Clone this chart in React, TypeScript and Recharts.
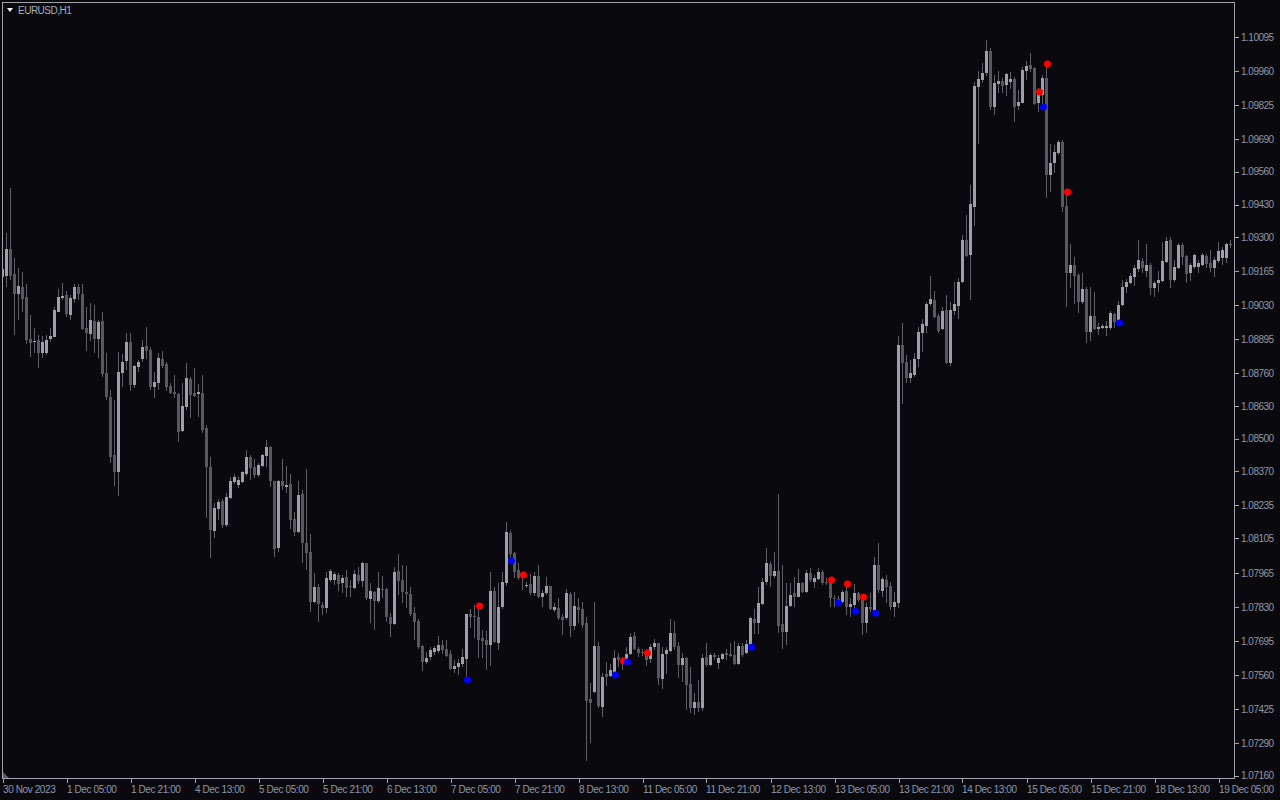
import React from 'react';
import { ComposedChart, Bar, Scatter, XAxis, YAxis } from 'recharts';

// EURUSD H1 candles, bar 0 = 30 Nov 2023 (prices)
const OPEN = [
  1.09144, 1.09148, 1.09252, 1.09156, 1.09076, 1.09104, 1.09064, 1.08896, 1.08884, 1.08892,
  1.08840, 1.08840, 1.08896, 1.08904, 1.09004, 1.09060, 1.09072, 1.08992, 1.09056, 1.09104,
  1.09076, 1.08940, 1.08916, 1.08968, 1.08896, 1.08968,
  1.08762, 1.08666, 1.08434, 1.08366,
  1.08762, 1.08810, 1.08886, 1.08714, 1.08786, 1.08818, 1.08870, 1.08854, 1.08706, 1.08722,
  1.08818, 1.08798, 1.08710, 1.08686, 1.08678, 1.08530, 1.08626, 1.08738, 1.08682, 1.08678, 1.08682,
  1.08544, 1.08388, 1.08132, 1.08220, 1.08252, 1.08156, 1.08264, 1.08328, 1.08316, 1.08328,
  1.08360, 1.08428, 1.08388, 1.08356, 1.08392, 1.08432,
  1.08469, 1.08333, 1.08065, 1.08333, 1.08309, 1.08321, 1.08181, 1.08129, 1.08281, 1.08085,
  1.08051, 1.07851, 1.07911, 1.07839, 1.07827, 1.07939, 1.07939, 1.07959, 1.07927, 1.07951,
  1.07915, 1.07907, 1.07959, 1.07935, 1.08007, 1.07863, 1.07891, 1.07855, 1.07903, 1.07903,
  1.07791, 1.07763, 1.07975, 1.07939, 1.07891, 1.07883, 1.07807, 1.07775,
  1.07677, 1.07613, 1.07633, 1.07653, 1.07657, 1.07681, 1.07665, 1.07645, 1.07585, 1.07593,
  1.07605, 1.07625, 1.07805, 1.07797, 1.07793, 1.07709, 1.07701,
  1.07679, 1.07895, 1.07687, 1.07831, 1.07927, 1.08127, 1.08047, 1.07979, 1.07951, 1.07919,
  1.07923, 1.07887, 1.07955, 1.07871, 1.07887, 1.07915, 1.07819, 1.07827, 1.07791, 1.07787,
  1.07883, 1.07755, 1.07831, 1.07823,
  1.07769, 1.07465, 1.07493, 1.07677, 1.07433, 1.07565, 1.07557, 1.07569, 1.07633, 1.07625,
  1.07621, 1.07645, 1.07717, 1.07665, 1.07653, 1.07653, 1.07625, 1.07673, 1.07689, 1.07545,
  1.07645, 1.07657, 1.07729, 1.07677, 1.07601, 1.07629, 1.07525, 1.07429, 1.07453, 1.07429,
  1.07633, 1.07601, 1.07641, 1.07609, 1.07625, 1.07649, 1.07645, 1.07641, 1.07605, 1.07677, 1.07649,
  1.07679, 1.07783, 1.07767, 1.07843, 1.07931, 1.08003, 1.07955, 1.07975, 1.07763, 1.07731,
  1.07835, 1.07887, 1.07871, 1.07927, 1.07891, 1.07967, 1.07931, 1.07943, 1.07971, 1.07931,
  1.07939, 1.07867, 1.07863, 1.07851, 1.07895, 1.07831, 1.07839, 1.07887, 1.07871, 1.07767,
  1.07831, 1.07811, 1.07999, 1.07895, 1.07939, 1.07915, 1.07831, 1.07847,
  1.08872, 1.08804, 1.08740, 1.08752, 1.08816, 1.08920, 1.08948, 1.09036, 1.09052, 1.08988,
  1.08936, 1.09012, 1.08800, 1.09008, 1.09028, 1.09122, 1.09290, 1.09230,
  1.09419, 1.09897, 1.09925, 1.09953, 1.10041, 1.09817, 1.09909, 1.09921, 1.09905, 1.09917,
  1.09929, 1.09821, 1.09833, 1.09961, 1.09985, 1.09973, 1.09833, 1.09865,
  1.09935, 1.09548, 1.09596, 1.09636, 1.09680, 1.09425, 1.09157, 1.09189,
  1.09151, 1.09043, 1.09095, 1.08923, 1.08987, 1.08935, 1.08939, 1.08939, 1.08939, 1.08995,
  1.08963, 1.09031, 1.09103, 1.09119,
  1.09142, 1.09174, 1.09206, 1.09166, 1.09190, 1.09098, 1.09118, 1.09126, 1.09202, 1.09290,
  1.09130, 1.09178, 1.09270, 1.09226, 1.09158, 1.09182, 1.09182, 1.09190, 1.09226, 1.09198,
  1.09178, 1.09206, 1.09218, 1.09218, 1.09274,
];

const HIGH = [
  1.09188, 1.09316, 1.09496, 1.09220, 1.09180, 1.09164, 1.09116, 1.08992, 1.08940, 1.08912,
  1.08908, 1.08912, 1.08940, 1.09024, 1.09096, 1.09120, 1.09088, 1.09072, 1.09116, 1.09116,
  1.09116, 1.09024, 1.09040, 1.09032, 1.08972, 1.09004,
  1.08842, 1.08694, 1.08654, 1.08846,
  1.08838, 1.08922, 1.08922, 1.08794, 1.08814, 1.08894, 1.08942, 1.08866, 1.08766, 1.08842,
  1.08850, 1.08806, 1.08722, 1.08754, 1.08682, 1.08722, 1.08802, 1.08746, 1.08782, 1.08718, 1.08754,
  1.08556, 1.08428, 1.08244, 1.08260, 1.08260, 1.08284, 1.08348, 1.08360, 1.08348, 1.08372,
  1.08456, 1.08436, 1.08420, 1.08404, 1.08440, 1.08496,
  1.08473, 1.08333, 1.08337, 1.08421, 1.08393, 1.08361, 1.08209, 1.08333, 1.08297, 1.08381,
  1.08123, 1.07967, 1.07923, 1.07851, 1.07971, 1.07983, 1.07971, 1.07967, 1.07959, 1.07979,
  1.07939, 1.07979, 1.07991, 1.08011, 1.08007, 1.07927, 1.07895, 1.07971, 1.07955, 1.07907,
  1.07807, 1.07991, 1.08043, 1.07999, 1.07995, 1.07911, 1.07831, 1.07783,
  1.07681, 1.07653, 1.07673, 1.07677, 1.07717, 1.07701, 1.07701, 1.07661, 1.07621, 1.07625,
  1.07665, 1.07805, 1.07825, 1.07841, 1.07825, 1.07741, 1.07737,
  1.07971, 1.07911, 1.07927, 1.07971, 1.08171, 1.08135, 1.08051, 1.08007, 1.07963, 1.07931,
  1.07963, 1.07971, 1.07999, 1.07899, 1.07951, 1.07915, 1.07847, 1.07867, 1.07803, 1.07903,
  1.07891, 1.07891, 1.07867, 1.07851,
  1.07793, 1.07529, 1.07853, 1.07693, 1.07569, 1.07613, 1.07605, 1.07661, 1.07649, 1.07633,
  1.07673, 1.07729, 1.07733, 1.07673, 1.07665, 1.07665, 1.07685, 1.07705, 1.07689, 1.07673,
  1.07673, 1.07785, 1.07777, 1.07693, 1.07649, 1.07633, 1.07593, 1.07489, 1.07541, 1.07645,
  1.07689, 1.07649, 1.07649, 1.07641, 1.07649, 1.07665, 1.07689, 1.07697, 1.07689, 1.07689, 1.07701,
  1.07791, 1.07823, 1.07911, 1.07947, 1.08067, 1.08011, 1.08051, 1.08279, 1.07999, 1.07927,
  1.07927, 1.07951, 1.07983, 1.07931, 1.07979, 1.07987, 1.07959, 1.07987, 1.07979, 1.07947,
  1.07947, 1.07879, 1.07875, 1.07899, 1.07911, 1.07867, 1.07923, 1.07891, 1.07879, 1.07847,
  1.07887, 1.08031, 1.08087, 1.07951, 1.07959, 1.07931, 1.07891, 1.08908,
  1.08960, 1.08832, 1.08812, 1.08840, 1.08944, 1.08976, 1.09044, 1.09148, 1.09088, 1.08996,
  1.09024, 1.09072, 1.09044, 1.09124, 1.09140, 1.09310, 1.09390, 1.09510,
  1.09919, 1.09961, 1.09993, 1.10085, 1.10053, 1.09945, 1.09961, 1.09933, 1.09953, 1.09957,
  1.09937, 1.09885, 1.09977, 1.10001, 1.10033, 1.09977, 1.09893, 1.09945,
  1.09979, 1.09672, 1.09668, 1.09688, 1.09688, 1.09469, 1.09273, 1.09221,
  1.09159, 1.09159, 1.09103, 1.09103, 1.09083, 1.08959, 1.08955, 1.08967, 1.09007, 1.08999,
  1.09047, 1.09131, 1.09135, 1.09159,
  1.09190, 1.09290, 1.09218, 1.09274, 1.09198, 1.09126, 1.09166, 1.09282, 1.09302, 1.09302,
  1.09210, 1.09278, 1.09278, 1.09230, 1.09198, 1.09234, 1.09210, 1.09238, 1.09234, 1.09250,
  1.09222, 1.09282, 1.09262, 1.09278, 1.09290,
];

const LOW = [
  1.09084, 1.09104, 1.09132, 1.08912, 1.08972, 1.09004, 1.08876, 1.08824, 1.08840, 1.08780,
  1.08820, 1.08832, 1.08884, 1.08904, 1.09004, 1.09052, 1.08984, 1.08972, 1.09040, 1.09052,
  1.08932, 1.08848, 1.08888, 1.08840, 1.08820, 1.08744,
  1.08654, 1.08402, 1.08314, 1.08274,
  1.08706, 1.08774, 1.08690, 1.08702, 1.08766, 1.08806, 1.08818, 1.08694, 1.08662, 1.08694,
  1.08782, 1.08690, 1.08678, 1.08662, 1.08486, 1.08526, 1.08614, 1.08582, 1.08666, 1.08586, 1.08522,
  1.08184, 1.08028, 1.08104, 1.08176, 1.08144, 1.08148, 1.08260, 1.08320, 1.08304, 1.08324,
  1.08352, 1.08336, 1.08344, 1.08348, 1.08388, 1.08388,
  1.08309, 1.08029, 1.08049, 1.08297, 1.08285, 1.08141, 1.08113, 1.08125, 1.08005, 1.07977,
  1.07811, 1.07847, 1.07771, 1.07799, 1.07807, 1.07931, 1.07919, 1.07895, 1.07887, 1.07871,
  1.07871, 1.07903, 1.07923, 1.07911, 1.07859, 1.07767, 1.07739, 1.07847, 1.07867, 1.07771,
  1.07711, 1.07759, 1.07879, 1.07847, 1.07827, 1.07795, 1.07699, 1.07663,
  1.07577, 1.07605, 1.07621, 1.07641, 1.07649, 1.07645, 1.07633, 1.07581, 1.07569, 1.07561,
  1.07593, 1.07553, 1.07749, 1.07709, 1.07629, 1.07629, 1.07581,
  1.07599, 1.07687, 1.07659, 1.07823, 1.07915, 1.08019, 1.07947, 1.07939, 1.07899, 1.07907,
  1.07879, 1.07875, 1.07867, 1.07831, 1.07879, 1.07819, 1.07811, 1.07779, 1.07719, 1.07779,
  1.07711, 1.07739, 1.07767, 1.07747,
  1.07221, 1.07293, 1.07489, 1.07429, 1.07393, 1.07517, 1.07553, 1.07561, 1.07593, 1.07581,
  1.07609, 1.07641, 1.07661, 1.07633, 1.07637, 1.07597, 1.07609, 1.07661, 1.07521, 1.07505,
  1.07565, 1.07653, 1.07661, 1.07549, 1.07533, 1.07421, 1.07409, 1.07401, 1.07413, 1.07417,
  1.07593, 1.07597, 1.07621, 1.07585, 1.07621, 1.07621, 1.07633, 1.07601, 1.07601, 1.07633, 1.07645,
  1.07671, 1.07723, 1.07723, 1.07839, 1.07919, 1.07911, 1.07947, 1.07727, 1.07663, 1.07679,
  1.07831, 1.07831, 1.07871, 1.07887, 1.07887, 1.07931, 1.07907, 1.07939, 1.07919, 1.07919,
  1.07831, 1.07831, 1.07835, 1.07847, 1.07799, 1.07791, 1.07819, 1.07851, 1.07719, 1.07727,
  1.07811, 1.07799, 1.07887, 1.07871, 1.07847, 1.07819, 1.07791, 1.07827,
  1.08640, 1.08720, 1.08720, 1.08744, 1.08784, 1.08844, 1.08920, 1.09028, 1.08980, 1.08920,
  1.08932, 1.08796, 1.08788, 1.08992, 1.08976, 1.09118, 1.09222, 1.09050,
  1.09347, 1.09673, 1.09913, 1.09941, 1.09805, 1.09785, 1.09873, 1.09873, 1.09861, 1.09889,
  1.09757, 1.09805, 1.09833, 1.09925, 1.09957, 1.09825, 1.09797, 1.09817,
  1.09455, 1.09480, 1.09556, 1.09628, 1.09400, 1.09025, 1.09097, 1.09037,
  1.08999, 1.09035, 1.08879, 1.08887, 1.08931, 1.08911, 1.08935, 1.08907, 1.08931, 1.08939,
  1.08951, 1.09027, 1.09079, 1.09115,
  1.09106, 1.09162, 1.09158, 1.09142, 1.09070, 1.09062, 1.09082, 1.09122, 1.09198, 1.09098,
  1.09122, 1.09174, 1.09190, 1.09118, 1.09126, 1.09174, 1.09158, 1.09186, 1.09178, 1.09162,
  1.09142, 1.09198, 1.09190, 1.09198, 1.09258,
];

const CLOSE = [
  1.09176, 1.09252, 1.09148, 1.09076, 1.09108, 1.09056, 1.08892, 1.08880, 1.08888, 1.08840,
  1.08884, 1.08892, 1.08908, 1.09012, 1.09064, 1.09068, 1.08996, 1.09060, 1.09104, 1.09076,
  1.08936, 1.08920, 1.08972, 1.08896, 1.08964, 1.08756,
  1.08666, 1.08426, 1.08366, 1.08766,
  1.08806, 1.08886, 1.08714, 1.08790, 1.08806, 1.08866, 1.08850, 1.08706, 1.08726, 1.08822,
  1.08790, 1.08706, 1.08682, 1.08678, 1.08526, 1.08630, 1.08742, 1.08674, 1.08670, 1.08686, 1.08534,
  1.08388, 1.08136, 1.08224, 1.08248, 1.08156, 1.08268, 1.08332, 1.08348, 1.08336, 1.08368,
  1.08428, 1.08384, 1.08356, 1.08396, 1.08436, 1.08468,
  1.08333, 1.08061, 1.08333, 1.08313, 1.08317, 1.08177, 1.08129, 1.08277, 1.08085, 1.08045,
  1.07851, 1.07911, 1.07843, 1.07827, 1.07947, 1.07975, 1.07963, 1.07923, 1.07947, 1.07907,
  1.07911, 1.07963, 1.07935, 1.08007, 1.07867, 1.07895, 1.07855, 1.07907, 1.07899, 1.07791,
  1.07763, 1.07971, 1.07935, 1.07891, 1.07883, 1.07803, 1.07771, 1.07671,
  1.07613, 1.07629, 1.07661, 1.07669, 1.07681, 1.07661, 1.07637, 1.07585, 1.07597, 1.07609,
  1.07633, 1.07805, 1.07793, 1.07793, 1.07701, 1.07697, 1.07681,
  1.07895, 1.07691, 1.07831, 1.07931, 1.08131, 1.08043, 1.07971, 1.07947, 1.07947, 1.07919,
  1.07887, 1.07955, 1.07871, 1.07887, 1.07915, 1.07823, 1.07831, 1.07787, 1.07779, 1.07887,
  1.07755, 1.07835, 1.07819, 1.07759,
  1.07457, 1.07449, 1.07677, 1.07437, 1.07553, 1.07553, 1.07581, 1.07629, 1.07621, 1.07605,
  1.07645, 1.07713, 1.07665, 1.07649, 1.07649, 1.07621, 1.07673, 1.07689, 1.07549, 1.07645,
  1.07661, 1.07729, 1.07673, 1.07601, 1.07629, 1.07521, 1.07429, 1.07453, 1.07429, 1.07629,
  1.07601, 1.07641, 1.07633, 1.07629, 1.07645, 1.07641, 1.07637, 1.07605, 1.07677, 1.07641, 1.07685,
  1.07787, 1.07767, 1.07847, 1.07931, 1.08007, 1.07955, 1.07975, 1.07755, 1.07731, 1.07835,
  1.07879, 1.07871, 1.07927, 1.07891, 1.07967, 1.07939, 1.07947, 1.07971, 1.07927, 1.07927,
  1.07867, 1.07863, 1.07847, 1.07891, 1.07831, 1.07843, 1.07887, 1.07859, 1.07767, 1.07831,
  1.07823, 1.07999, 1.07899, 1.07943, 1.07911, 1.07831, 1.07851, 1.08872,
  1.08800, 1.08740, 1.08760, 1.08816, 1.08924, 1.08956, 1.09036, 1.09056, 1.08984, 1.08928,
  1.09008, 1.08800, 1.09012, 1.09036, 1.09124, 1.09290, 1.09226, 1.09434,
  1.09903, 1.09929, 1.09953, 1.10041, 1.09817, 1.09913, 1.09921, 1.09901, 1.09949, 1.09929,
  1.09817, 1.09837, 1.09965, 1.09981, 1.09969, 1.09829, 1.09873, 1.09933,
  1.09547, 1.09596, 1.09640, 1.09680, 1.09420, 1.09157, 1.09189, 1.09145,
  1.09043, 1.09095, 1.08923, 1.08987, 1.08935, 1.08943, 1.08947, 1.08947, 1.08999, 1.08963,
  1.09031, 1.09103, 1.09123, 1.09147,
  1.09178, 1.09210, 1.09178, 1.09190, 1.09098, 1.09118, 1.09130, 1.09206, 1.09286, 1.09130,
  1.09182, 1.09270, 1.09222, 1.09154, 1.09190, 1.09230, 1.09198, 1.09230, 1.09194, 1.09178,
  1.09210, 1.09246, 1.09250, 1.09274, 1.09270,
];

// indicator signals: bar index and price of the dot
const RED_SIGNAL_BARS = [119, 130, 155, 161, 207, 211, 215, 259, 261, 266];
const RED_SIGNAL_PRICES = [1.07835, 1.07959, 1.07617, 1.07649, 1.07939, 1.07923, 1.07871, 1.09878, 1.09989, 1.0948];
const BLUE_SIGNAL_BARS = [116, 127, 153, 156, 187, 209, 213, 218, 260, 279];
const BLUE_SIGNAL_PRICES = [1.07541, 1.08014, 1.07561, 1.07613, 1.07672, 1.07847, 1.07815, 1.07807, 1.09818, 1.0896];

const TIME_LABELS = [
  '30 Nov 2023', '1 Dec 05:00', '1 Dec 21:00', '4 Dec 13:00', '5 Dec 05:00', '5 Dec 21:00',
  '6 Dec 13:00', '7 Dec 05:00', '7 Dec 21:00', '8 Dec 13:00', '11 Dec 05:00', '11 Dec 21:00',
  '12 Dec 13:00', '13 Dec 05:00', '13 Dec 21:00', '14 Dec 13:00', '15 Dec 05:00', '15 Dec 21:00',
  '18 Dec 13:00', '19 Dec 05:00',
];
const BARS_PER_LABEL = 16;

const PRICE_TICKS = [
  1.0716, 1.0729, 1.07425, 1.0756, 1.07695, 1.0783, 1.07965, 1.08105, 1.08235, 1.0837, 1.085,
  1.0863, 1.0876, 1.08895, 1.0903, 1.09165, 1.093, 1.0943, 1.0956, 1.0969, 1.09825, 1.0996, 1.10095,
];

const SYMBOL_TITLE = 'EURUSD,H1';

// ---- styling ----
const BG = '#0a0a0e';
const FRAME = '#a3a3ab';
const TEXT = '#8d98ab';
const BULL = '#9e9fab';
const BEAR = '#58585d';
const WICK = '#5e5e65';
const FONT = '"Liberation Sans", Arial, sans-serif';

const W = 1280;
const H = 800;
const MARGIN = { top: 2, right: 0, bottom: 0, left: 2 };
const Y_AXIS_W = 45;
const X_AXIS_H = 21;
const PLOT_RIGHT = W - MARGIN.right - Y_AXIS_W;
const PLOT_BOTTOM = H - MARGIN.bottom - X_AXIS_H;

const candles = OPEN.map((o, i) => ({
  i,
  open: o,
  high: HIGH[i],
  low: LOW[i],
  close: CLOSE[i],
  range: [LOW[i], HIGH[i]],
}));
const redPoints = RED_SIGNAL_BARS.map((b, k) => ({ i: b, price: RED_SIGNAL_PRICES[k] }));
const bluePoints = BLUE_SIGNAL_BARS.map((b, k) => ({ i: b, price: BLUE_SIGNAL_PRICES[k] }));
const timeTicks = TIME_LABELS.map((_, k) => k * BARS_PER_LABEL);

const Candle = (props: any) => {
  const { x, y, width, height, payload } = props;
  if (x == null || y == null || !payload) return null;
  const { open, close, high, low } = payload;
  const top = Math.min(y, y + height);
  const bottom = Math.max(y, y + height);
  const span = high - low;
  const toY = (v: number) => (span > 0 ? top + ((high - v) / span) * (bottom - top) : top);
  const cx = Math.floor(x + width / 2);
  const yH = Math.round(toY(high));
  const yL = Math.round(toY(low));
  const yO = Math.round(toY(open));
  const yC = Math.round(toY(close));
  const bTop = Math.min(yO, yC);
  const bBot = Math.max(yO, yC);
  const bull = close >= open;
  return (
    <g>
      <rect x={cx} y={yH} width={1} height={Math.max(1, yL - yH)} fill={WICK} />
      <rect x={cx - 1} y={bTop} width={3} height={Math.max(1, bBot - bTop)} fill={bull ? BULL : BEAR} />
    </g>
  );
};

const RedDot = (p: any) =>
  p.cx == null ? null : <circle cx={Math.floor(p.cx) + 0.5} cy={p.cy} r={3.5} fill="#ff0000" />;
const BlueDot = (p: any) =>
  p.cx == null ? null : <circle cx={Math.floor(p.cx) + 0.5} cy={p.cy} r={3.5} fill="#0000ff" />;

const XTick = (props: any) => {
  const { x, payload } = props;
  const idx = Math.round(payload.value / BARS_PER_LABEL);
  const tx = Math.floor(x) + 0.5;
  return (
    <g>
      <line x1={tx} x2={tx} y1={PLOT_BOTTOM} y2={PLOT_BOTTOM + 4} stroke={FRAME} strokeWidth={1} />
      <text
        x={Math.floor(x)}
        y={PLOT_BOTTOM + 14}
        fill={TEXT}
        fontSize={10}
        fontFamily={FONT}
        letterSpacing={-0.4}
        textAnchor="start"
      >
        {TIME_LABELS[idx]}
      </text>
    </g>
  );
};

const YTick = (props: any) => {
  const { y, payload } = props;
  const ty = Math.round(y) + 0.5;
  return (
    <g>
      <line x1={PLOT_RIGHT} x2={PLOT_RIGHT + 4} y1={ty} y2={ty} stroke={FRAME} strokeWidth={1} />
      <text
        x={PLOT_RIGHT + 6}
        y={y + 3.5}
        fill={TEXT}
        fontSize={10}
        fontFamily={FONT}
        letterSpacing={-0.5}
        textAnchor="start"
      >
        {Number(payload.value).toFixed(5)}
      </text>
    </g>
  );
};

export default function App() {
  return (
    <div
      style={{
        position: 'fixed',
        left: 0,
        top: 0,
        width: W,
        height: H,
        background: BG,
        overflow: 'hidden',
      }}
    >
      <ComposedChart width={W} height={H} data={candles} margin={MARGIN}>
        <XAxis
          dataKey="i"
          type="number"
          domain={[-0.25, 308]}
          allowDataOverflow
          ticks={timeTicks}
          interval={0}
          height={X_AXIS_H}
          axisLine={false}
          tickLine={false}
          tick={<XTick />}
        />
        <YAxis
          type="number"
          orientation="right"
          domain={[1.0714806, 1.1023526]}
          allowDataOverflow
          ticks={PRICE_TICKS}
          interval={0}
          width={Y_AXIS_W}
          axisLine={false}
          tickLine={false}
          tick={<YTick />}
        />
        <Bar dataKey="range" barSize={3} shape={<Candle />} isAnimationActive={false} />
        <Scatter data={redPoints} dataKey="price" shape={<RedDot />} isAnimationActive={false} />
        <Scatter data={bluePoints} dataKey="price" shape={<BlueDot />} isAnimationActive={false} />
      </ComposedChart>
      <svg
        width={W}
        height={H}
        style={{ position: 'absolute', left: 0, top: 0, pointerEvents: 'none' }}
      >
        <rect
          x={MARGIN.left + 0.5}
          y={MARGIN.top + 0.5}
          width={PLOT_RIGHT - MARGIN.left - 1}
          height={PLOT_BOTTOM - MARGIN.top - 1}
          fill="none"
          stroke={FRAME}
          strokeWidth={1}
        />
        <polygon points="3,772 3,778 9,778" fill="#5a5a68" />
        <polygon points="7,8 13,8 10,12" fill="#ffffff" />
        <text x={18} y={14} fill="#a6adbb" fontSize={10} fontFamily={FONT} letterSpacing={-0.5}>
          {SYMBOL_TITLE}
        </text>
      </svg>
    </div>
  );
}
